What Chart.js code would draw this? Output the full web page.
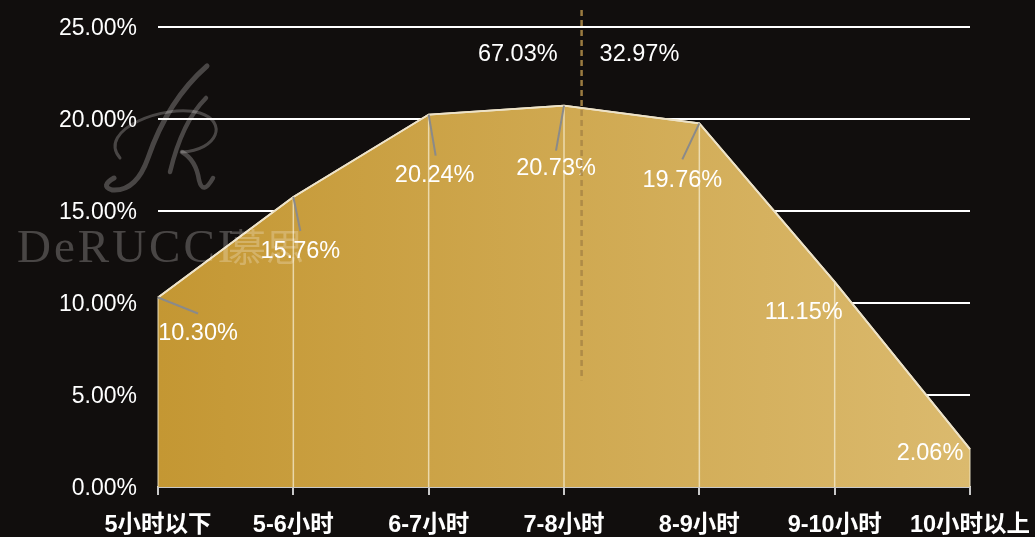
<!DOCTYPE html>
<html><head><meta charset="utf-8">
<script src="https://cdn.jsdelivr.net/npm/chart.js@4.4.1/dist/chart.umd.min.js"></script>
<style>html,body{margin:0;padding:0;background:#110e0d;}#wrap{width:1035px;height:537px;}</style>
</head><body><div id="wrap"><canvas id="c" width="1035" height="537"></canvas></div>
<script>
const categories = ['5小时以下','5-6小时','6-7小时','7-8小时','8-9小时','9-10小时','10小时以上'];
const shares = [10.30, 15.76, 20.24, 20.73, 19.76, 11.15, 2.06];
const splitIndex = 4; // first 4 categories vs rest
const yTicks = [0, 5, 10, 15, 20, 25];

// label offsets (pixels) relative to each point: [labelDx, labelDy, leaderDx, leaderDy]
const labelPlace = [
  [40, 36, 40, 16],
  [7, 54, 7, 34],
  [6, 61, 7, 41],
  [-8, 63, -8, 45],
  [-17, 57, -17, 36],
  [-31, 31, 0, 0],
  [-40, 4, 0, 0]
];

const SANS = '"Liberation Sans", Arial, "Noto Sans CJK SC", sans-serif';
const WM = 'rgba(255,250,250,0.24)';

function drawWatermark(ctx) {
  ctx.save();
  ctx.fillStyle = WM;
  ctx.strokeStyle = WM;
  ctx.lineCap = 'round';
  ctx.textAlign = 'left';
  ctx.textBaseline = 'alphabetic';
  ctx.font = '47px "Liberation Serif", "DejaVu Serif", serif';
  if (ctx.letterSpacing !== undefined) ctx.letterSpacing = '3px';
  ctx.fillText('DeRUCCI', 17, 262);
  if (ctx.letterSpacing !== undefined) ctx.letterSpacing = '0px';
  ctx.font = '38px "Noto Sans CJK SC", sans-serif';
  ctx.fillText('慕思', 228, 261);
  // script logo
  ctx.lineWidth = 5;
  ctx.beginPath(); ctx.moveTo(207, 66);
  ctx.quadraticCurveTo(168, 100, 148, 158);
  ctx.quadraticCurveTo(136, 192, 112, 190);
  ctx.quadraticCurveTo(100, 186, 114, 178);
  ctx.stroke();
  ctx.lineWidth = 3;
  ctx.beginPath(); ctx.moveTo(120, 158);
  ctx.bezierCurveTo(96, 130, 165, 103, 200, 113);
  ctx.bezierCurveTo(228, 122, 218, 150, 182, 152);
  ctx.stroke();
  ctx.lineWidth = 4.5;
  ctx.beginPath(); ctx.moveTo(206, 98);
  ctx.quadraticCurveTo(182, 122, 170, 172);
  ctx.stroke();
  ctx.beginPath(); ctx.moveTo(182, 152);
  ctx.quadraticCurveTo(196, 160, 199, 180);
  ctx.quadraticCurveTo(203, 196, 213, 178);
  ctx.stroke();
  ctx.restore();
}

const overlay = {
  id: 'overlay',
  afterDatasetsDraw(chart) {
    const ctx = chart.ctx;
    const xs = chart.scales.x, ys = chart.scales.y;
    const meta = chart.getDatasetMeta(0);
    ctx.save();
    // drop lines
    ctx.strokeStyle = 'rgba(245,235,205,0.75)';
    ctx.lineWidth = 1.5;
    meta.data.forEach((p, i) => {
      if (i === 0 || i === meta.data.length - 1) return;
      ctx.beginPath(); ctx.moveTo(p.x, p.y); ctx.lineTo(p.x, ys.bottom); ctx.stroke();
    });
    ctx.strokeStyle = '#eee3c8';
    ctx.lineWidth = 1.8;
    ctx.beginPath();
    meta.data.forEach((p, i) => { if (i === 0) ctx.moveTo(p.x, p.y); else ctx.lineTo(p.x, p.y); });
    ctx.stroke();
    ctx.beginPath();
    ctx.moveTo(meta.data[0].x, meta.data[0].y); ctx.lineTo(meta.data[0].x, ys.bottom);
    const last = meta.data[meta.data.length-1];
    ctx.moveTo(last.x, last.y); ctx.lineTo(last.x, ys.bottom);
    ctx.strokeStyle = 'rgba(245,235,205,0.6)'; ctx.lineWidth = 1.5; ctx.stroke();
    // leader lines
    ctx.strokeStyle = '#8a8a8a';
    ctx.lineWidth = 2;
    meta.data.forEach((p, i) => {
      const lp = labelPlace[i];
      if (lp[2] === 0 && lp[3] === 0) return;
      ctx.beginPath(); ctx.moveTo(p.x, p.y); ctx.lineTo(p.x + lp[2], p.y + lp[3]); ctx.stroke();
    });
    // labels
    ctx.fillStyle = '#ffffff';
    ctx.font = '23.5px ' + SANS;
    ctx.textAlign = 'center';
    ctx.textBaseline = 'middle';
    meta.data.forEach((p, i) => {
      const lp = labelPlace[i];
      ctx.fillText(shares[i].toFixed(2) + '%', p.x + lp[0], p.y + lp[1]);
    });
    // split dashed line
    const sx = xs.getPixelForValue(3.13);
    ctx.strokeStyle = 'rgba(170,135,70,0.9)';
    ctx.lineWidth = 2.5;
    ctx.setLineDash([6, 4]);
    ctx.beginPath(); ctx.moveTo(sx, 10); ctx.lineTo(sx, ys.getPixelForValue(5.8)); ctx.stroke();
    ctx.setLineDash([]);
    const leftSum = shares.slice(0, splitIndex).reduce((a, b) => a + b, 0);
    const rightSum = shares.slice(splitIndex).reduce((a, b) => a + b, 0);
    const ly = ys.getPixelForValue(23.5);
    ctx.fillStyle = '#ffffff';
    ctx.textAlign = 'right';
    ctx.fillText(leftSum.toFixed(2) + '%', sx - 24, ly);
    ctx.textAlign = 'left';
    ctx.fillText(rightSum.toFixed(2) + '%', sx + 18, ly);
    ctx.restore();
    drawWatermark(ctx);
  }
};

new Chart(document.getElementById('c'), {
  type: 'line',
  data: {
    labels: categories,
    datasets: [{
      data: shares,
      fill: 'origin',
      tension: 0,
      pointRadius: 0,
      borderColor: '#eee3c8',
      borderWidth: 1.8,
      backgroundColor: (c) => {
        const a = c.chart.chartArea;
        if (!a) return '#c9a045';
        const g = c.chart.ctx.createLinearGradient(a.left, 0, a.right, 0);
        g.addColorStop(0, '#c49733');
        g.addColorStop(1, '#dbba6e');
        return g;
      }
    }]
  },
  options: {
    responsive: false,
    animation: false,
    events: [],
    layout: { padding: { left: 0, right: 65, top: 27, bottom: 0 } },
    plugins: { legend: { display: false }, tooltip: { enabled: false } },
    scales: {
      x: {
        offset: false,
        border: { display: true, color: '#c8c8c8', width: 2 },
        grid: { drawOnChartArea: false, drawTicks: true, tickLength: 8, color: '#c8c8c8', lineWidth: 2 },
        ticks: { color: '#ffffff', padding: 16, maxRotation: 0, autoSkip: false,
          font: { family: SANS, size: 23.5, weight: 'bold' } },
        afterFit: (s) => { s.height = 50; s.paddingLeft = 0; s.paddingRight = 0; }
      },
      y: {
        min: yTicks[0], max: yTicks[yTicks.length - 1],
        border: { display: false },
        grid: { color: '#ffffff', lineWidth: 2, drawTicks: false },
        afterBuildTicks: (s) => { s.ticks = yTicks.map(v => ({ value: v })); },
        ticks: { color: '#ffffff', padding: 21, labelOffset: 1.5, font: { family: SANS, size: 23 },
          callback: (v) => Number(v).toFixed(2) + '%' },
        afterFit: (s) => { s.width = 158; s.paddingTop = 0; s.paddingBottom = 0; }
      }
    }
  },
  plugins: [overlay]
});
</script></body></html>
